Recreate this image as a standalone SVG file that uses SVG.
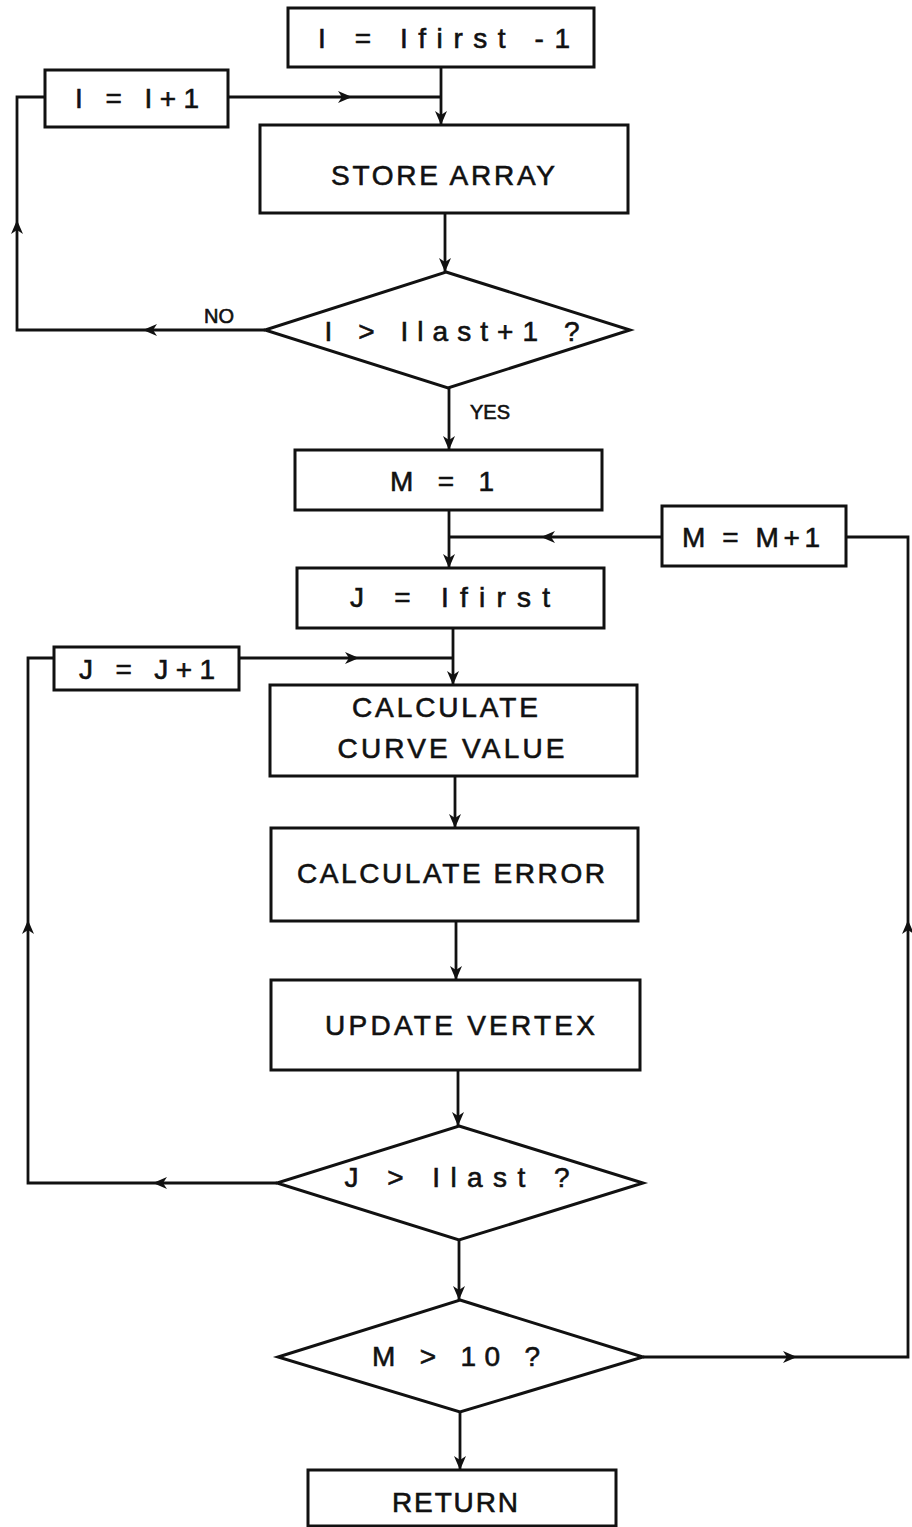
<svg xmlns="http://www.w3.org/2000/svg" width="912" height="1527" viewBox="0 0 912 1527">
<style>
.n{fill:#fff;stroke:#111;stroke-width:3}
.c{fill:none;stroke:#111;stroke-width:2.8}
.t{font-family:"Liberation Sans",Arial,sans-serif;font-size:28px;fill:#111;stroke:#111;stroke-width:0.6;text-anchor:middle;dominant-baseline:central}
.s{font-size:20px}
</style>
<defs>
<marker id="a" markerUnits="userSpaceOnUse" viewBox="0 0 14 12" refX="14" refY="6" markerWidth="14" markerHeight="12" orient="auto">
<path d="M0,0 L14,6 L0,12 L4,6 Z" fill="#111"/>
</marker>
</defs>
<rect width="912" height="1527" fill="#fff"/>
<g id="connectors">
<path class="c" d="M441,67 V125" marker-end="url(#a)"/>
<path class="c" d="M228,97 H352" marker-end="url(#a)"/>
<path class="c" d="M352,97 H441"/>
<path class="c" d="M445,213 V272" marker-end="url(#a)"/>
<path class="c" d="M265,330 H143" marker-end="url(#a)"/>
<path class="c" d="M143,330 H17 V220" marker-end="url(#a)"/>
<path class="c" d="M17,220 V97 H45"/>
<path class="c" d="M449,388 V450" marker-end="url(#a)"/>
<path class="c" d="M449,510 V568" marker-end="url(#a)"/>
<path class="c" d="M662,537 H541" marker-end="url(#a)"/>
<path class="c" d="M541,537 H449"/>
<path class="c" d="M453,628 V685" marker-end="url(#a)"/>
<path class="c" d="M239,658 H359" marker-end="url(#a)"/>
<path class="c" d="M359,658 H453"/>
<path class="c" d="M455,776 V828" marker-end="url(#a)"/>
<path class="c" d="M456,921 V980" marker-end="url(#a)"/>
<path class="c" d="M458,1070 V1126" marker-end="url(#a)"/>
<path class="c" d="M277,1183 H153" marker-end="url(#a)"/>
<path class="c" d="M153,1183 H28 V920" marker-end="url(#a)"/>
<path class="c" d="M28,920 V658 H54"/>
<path class="c" d="M459,1240 V1300" marker-end="url(#a)"/>
<path class="c" d="M643,1357 H797" marker-end="url(#a)"/>
<path class="c" d="M797,1357 H908 V920" marker-end="url(#a)"/>
<path class="c" d="M908,920 V537 H846"/>
<path class="c" d="M460,1412 V1470" marker-end="url(#a)"/>
</g>
<g id="n_init">
<rect class="n" x="288" y="8" width="306" height="59"/>
<text class="t" x="444" y="38" textLength="252" lengthAdjust="spacing">I = Ifirst -1</text>
</g>
<g id="n_inc_i">
<rect class="n" x="45" y="70" width="183" height="57"/>
<text class="t" x="137" y="98" textLength="124" lengthAdjust="spacing">I = I+1</text>
</g>
<g id="n_store">
<rect class="n" x="260" y="125" width="368" height="88"/>
<text class="t" x="443" y="175" textLength="224" lengthAdjust="spacing">STORE ARRAY</text>
</g>
<g id="n_dec_i">
<polygon class="n" points="446,272 630,330 448,388 265,330"/>
<text class="t" x="452" y="331" textLength="255" lengthAdjust="spacing">I &gt; Ilast+1 ?</text>
<text class="t s" x="219" y="316">NO</text>
<text class="t s" x="490" y="412">YES</text>
</g>
<g id="n_m1">
<rect class="n" x="295" y="450" width="307" height="60"/>
<text class="t" x="442" y="481" textLength="104" lengthAdjust="spacing">M = 1</text>
</g>
<g id="n_inc_m">
<rect class="n" x="662" y="506" width="184" height="60"/>
<text class="t" x="751" y="537" textLength="138" lengthAdjust="spacing">M = M+1</text>
</g>
<g id="n_j">
<rect class="n" x="297" y="568" width="307" height="60"/>
<text class="t" x="450" y="597" textLength="200" lengthAdjust="spacing">J = Ifirst</text>
</g>
<g id="n_inc_j">
<rect class="n" x="54" y="647" width="185" height="43"/>
<text class="t" x="147" y="669" textLength="136" lengthAdjust="spacing">J = J+1</text>
</g>
<g id="n_curve">
<rect class="n" x="270" y="685" width="367" height="91"/>
<text class="t" x="445" y="707" textLength="186" lengthAdjust="spacing">CALCULATE</text>
<text class="t" x="451" y="748" textLength="227" lengthAdjust="spacing">CURVE VALUE</text>
</g>
<g id="n_error">
<rect class="n" x="271" y="828" width="367" height="93"/>
<text class="t" x="451" y="873" textLength="308" lengthAdjust="spacing">CALCULATE ERROR</text>
</g>
<g id="n_update">
<rect class="n" x="271" y="980" width="369" height="90"/>
<text class="t" x="460" y="1025" textLength="270" lengthAdjust="spacing">UPDATE VERTEX</text>
</g>
<g id="n_dec_j">
<polygon class="n" points="459,1126 643,1183 459,1240 277,1183"/>
<text class="t" x="457" y="1177" textLength="225" lengthAdjust="spacing">J &gt; Ilast ?</text>
</g>
<g id="n_dec_m">
<polygon class="n" points="460,1300 643,1357 460,1412 278,1357"/>
<text class="t" x="456" y="1356" textLength="168" lengthAdjust="spacing">M &gt; 10 ?</text>
</g>
<g id="n_return">
<rect class="n" x="308" y="1470" width="308" height="56"/>
<text class="t" x="455" y="1502" textLength="126" lengthAdjust="spacing">RETURN</text>
</g>
</svg>
